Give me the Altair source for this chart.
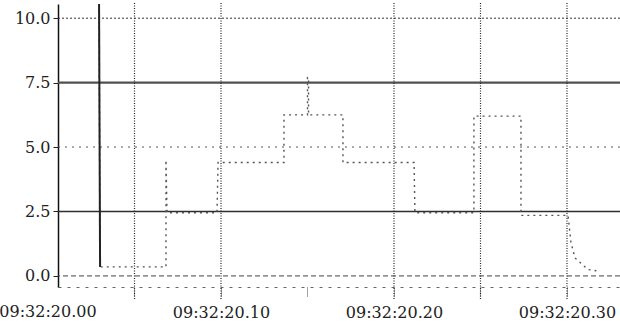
import altair as alt
import pandas as pd

# signal samples: milliseconds after 09:32:20.000 and value
T_MS = [29.5, 30.1, 68.2, 68.2, 68.8, 97.7, 98.3, 136.4, 136.4, 150.0, 150.0,
        150.6, 150.6, 170.5, 170.5, 211.6, 212.1, 246.2, 246.2, 273.4, 273.4,
        300.6, 302.3, 304.6, 312.1, 317.0]
VALUES = [10.8, 0.35, 0.35, 4.5, 2.45, 2.45, 4.4, 4.4, 6.25, 6.25, 7.7,
          7.7, 6.25, 6.25, 4.4, 4.4, 2.45, 2.45, 6.2, 6.2, 2.35,
          2.35, 1.3, 0.7, 0.25, 0.2]

Y_TICKS = [0.0, 2.5, 5.0, 7.5, 10.0]
X_TICKS = [20.05, 20.10, 20.15, 20.20, 20.25, 20.30]  # seconds of 09:32
X_FIRST = [20.00]  # first label, left of the plot's y axis
V_GRID = [20.05, 20.10, 20.20, 20.25, 20.30]
H_SOLID = [2.5, 7.5]
H_DENSE = [10.0]
H_SPARSE = [5.0]
H_DASHED = [0.0]

sig = pd.DataFrame({"t": [20 + m / 1000 for m in T_MS], "v": VALUES,
                    "i": list(range(len(T_MS)))})

xs = alt.Scale(domain=[20.00578, 20.33064], nice=False, zero=False)
ys = alt.Scale(domain=[-0.43, 10.55], nice=False, zero=False)

FONT = "DejaVu Serif"
FS = 16
LABEL_EXPR = "'09:32:' + format(datum.value, '05.2f')"

def hrule(vals, **kw):
    return alt.Chart(pd.DataFrame({"v": vals})).mark_rule(**kw).encode(
        y=alt.Y("v:Q", scale=ys))

grid_solid = alt.Chart(pd.DataFrame({"v": H_SOLID, "w": [1.6, 2.4],
                                     "c": ["#2e2e2e", "#505050"]})).mark_rule().encode(
    y=alt.Y("v:Q", scale=ys),
    color=alt.Color("c:N", scale=None, legend=None),
    strokeWidth=alt.StrokeWidth("w:Q", scale=None, legend=None))
grid_dense = hrule(H_DENSE, color="#333", strokeWidth=1, strokeDash=[2, 2])
grid_sparse = hrule(H_SPARSE, color="#555", strokeWidth=1, strokeDash=[2, 5])
grid_dashed = hrule(H_DASHED, color="#444", strokeWidth=1, strokeDash=[5, 3])

vgrid = alt.Chart(pd.DataFrame({"t": V_GRID})).mark_rule(
    color="#222", strokeWidth=1.2, strokeDash=[1, 1.5]).encode(
    x=alt.X("t:Q", scale=xs), y=alt.value(-1), y2=alt.value(296))

line = alt.Chart(sig).mark_line(
    color="#555", strokeWidth=1.4, strokeDash=[2, 4], clip=True).encode(
    x=alt.X("t:Q", scale=xs, title=None,
            axis=alt.Axis(values=X_TICKS,
                          labelExpr="(round(datum.value*100) % 10 == 0) ? " + LABEL_EXPR + " : ''",
                          grid=False, tickSize=10, tickColor="#444", tickDash=[1, 1],
                          domainDash=[3, 6], domainColor="#666",
                          labelFont=FONT, labelFontSize=FS, labelColor="#222",
                          labelPadding=7, labelFlush=False, labelOverlap=False,
                          labelBound=False)),
    y=alt.Y("v:Q", scale=ys, title=None,
            axis=alt.Axis(values=Y_TICKS, format=".1f", grid=False, tickSize=5,
                          tickColor="#222", domainColor="#111", domainWidth=1.5,
                          labelFont=FONT, labelFontSize=FS, labelColor="#222",
                          labelPadding=3)),
    order=alt.Order("i:Q"))

spike = alt.Chart(sig.iloc[:2]).mark_line(color="#222", strokeWidth=2, clip=True).encode(
    x=alt.X("t:Q", scale=xs), y=alt.Y("v:Q", scale=ys), order=alt.Order("i:Q"))

first_label = alt.Chart(pd.DataFrame({"t": X_FIRST})).transform_calculate(
    lab=LABEL_EXPR.replace("datum.value", "datum.t")).mark_text(
    font=FONT, fontSize=FS, color="#222", baseline="top", align="center").encode(
    x=alt.X("t:Q", scale=xs), y=alt.value(300), text="lab:N")

chart = alt.layer(grid_dense, grid_sparse, grid_dashed, grid_solid, vgrid, line,
                  spike, first_label).properties(
    width=562, height=283,
    autosize=alt.AutoSizeParams(type="none"),
    padding={"left": 58, "top": 4, "right": 0, "bottom": 36},
    background="white",
).configure_view(stroke=None)

chart.save("out.html", embed_options={"renderer": "svg", "actions": False})
